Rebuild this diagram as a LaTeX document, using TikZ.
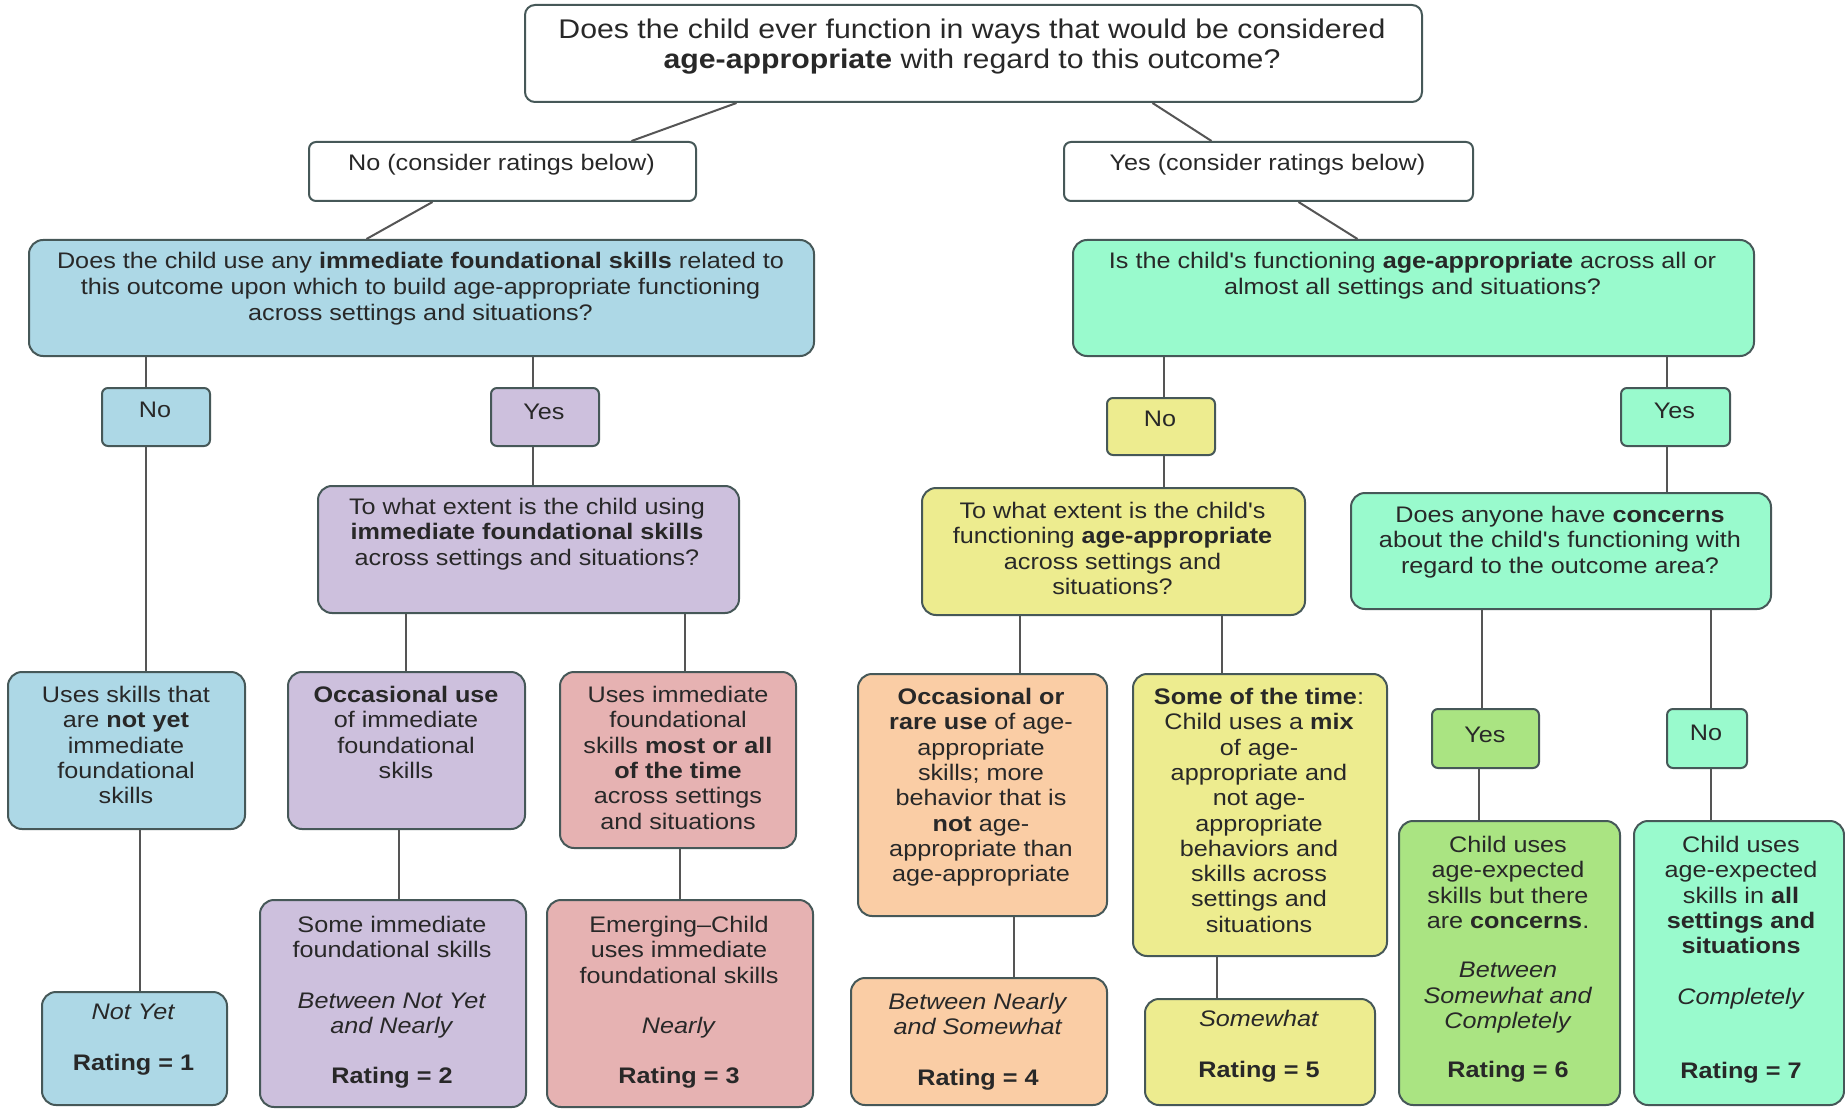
\documentclass[tikz,border=0pt]{standalone}
\usepackage{fontspec}
\setmainfont{Liberation Sans}
\newfontfamily\wf[FakeStretch=1.12]{Liberation Sans}
\definecolor{bordercol}{RGB}{70,88,88}
\definecolor{linecol}{RGB}{85,85,85}
\definecolor{textcol}{RGB}{40,40,40}
\definecolor{cblue}{RGB}{173,216,230}
\definecolor{cpurple}{RGB}{205,192,221}
\definecolor{cred}{RGB}{230,178,178}
\definecolor{corange}{RGB}{250,205,165}
\definecolor{cyellow}{RGB}{237,236,143}
\definecolor{caqua}{RGB}{153,250,205}
\definecolor{clgreen}{RGB}{170,228,130}
\begin{document}
\begin{tikzpicture}[x=1pt,y=-1pt,
  box/.style={draw=bordercol, line width=2pt, rounded corners=14pt, anchor=north west, inner sep=0pt},
  sbox/.style={box, rounded corners=6pt},
  wt/.style={align=center, inner sep=0pt, anchor=north, text=textcol, font=\wf\fontsize{22.5}{25.3}\selectfont},
  nt/.style={align=center, inner sep=0pt, anchor=north, text=textcol, font=\wf\fontsize{22.5}{26}\selectfont},
  tt/.style={align=center, inner sep=0pt, anchor=north, text=textcol, font=\wf\fontsize{27}{29.5}\selectfont},
  st/.style={inner sep=0pt, anchor=center, text=textcol, font=\wf\fontsize{22.5}{26}\selectfont},
  conn/.style={draw=linecol, line width=2pt}]
\useasboundingbox (0,0) rectangle (1845,1110);

% ---------- boxes ----------
\node[box, rounded corners=10pt, fill=white, minimum width=897pt, minimum height=97pt] (top) at (524,4) {};
\node[box, rounded corners=7pt, fill=white, minimum width=387pt, minimum height=59pt] (noC) at (308,141) {};
\node[box, rounded corners=7pt, fill=white, minimum width=409pt, minimum height=59pt] (yesC) at (1063,141) {};
\node[box, fill=cblue, minimum width=785pt, minimum height=116pt] (blueQ) at (28,239) {};
\node[box, fill=caqua, minimum width=681pt, minimum height=116pt] (greenQ) at (1072,239) {};
\node[sbox, fill=cblue, minimum width=108pt, minimum height=58pt] (noB) at (101,387) {};
\node[sbox, fill=cpurple, minimum width=108pt, minimum height=58pt] (yesP) at (490,387) {};
\node[sbox, fill=cyellow, minimum width=108pt, minimum height=57pt] (noY) at (1106,397) {};
\node[sbox, fill=caqua, minimum width=109pt, minimum height=58pt] (yesG) at (1620,387) {};
\node[box, fill=cpurple, minimum width=421pt, minimum height=127pt] (purQ) at (317,485) {};
\node[box, fill=cyellow, minimum width=383pt, minimum height=127pt] (yelQ) at (921,487) {};
\node[box, fill=caqua, minimum width=420pt, minimum height=116pt] (anyQ) at (1350,492) {};
\node[box, fill=cblue, minimum width=237pt, minimum height=157pt] (usesSk) at (7,671) {};
\node[box, fill=cpurple, minimum width=237pt, minimum height=157pt] (occUse) at (287,671) {};
\node[box, fill=cred, minimum width=236pt, minimum height=176pt] (usesImm) at (559,671) {};
\node[box, fill=corange, minimum width=249pt, minimum height=242pt] (occRare) at (857,673) {};
\node[box, fill=cyellow, minimum width=254pt, minimum height=282pt] (someTime) at (1132,673) {};
\node[sbox, fill=clgreen, minimum width=107pt, minimum height=59pt] (yesL) at (1431,708) {};
\node[sbox, fill=caqua, minimum width=80pt, minimum height=59pt] (noG) at (1666,708) {};
\node[box, fill=clgreen, minimum width=221pt, minimum height=284pt] (r6) at (1398,820) {};
\node[box, fill=caqua, minimum width=210pt, minimum height=284pt] (r7) at (1633,820) {};
\node[box, fill=cblue, minimum width=185pt, minimum height=113pt] (r1) at (41,991) {};
\node[box, fill=cpurple, minimum width=266pt, minimum height=207pt] (r2) at (259,899) {};
\node[box, fill=cred, minimum width=266pt, minimum height=207pt] (r3) at (546,899) {};
\node[box, fill=corange, minimum width=256pt, minimum height=127pt] (r4) at (850,977) {};
\node[box, fill=cyellow, minimum width=230pt, minimum height=106pt] (r5) at (1144,998) {};

% ---------- texts ----------
\node[tt] (topT) at (972,19) {Does the child ever function in ways that would be considered\\\textbf{age-appropriate} with regard to this outcome?};
\node[nt] (noCT) at (501.5,153.5) {No (consider ratings below)};
\node[nt] (yesCT) at (1267.5,153.5) {Yes (consider ratings below)};
\node[nt] (blueQT) at (420.5,251.5) {Does the child use any \textbf{immediate foundational skills} related to\\this outcome upon which to build age-appropriate functioning\\across settings and situations?};
\node[nt] (greenQT) at (1412.5,251.5) {Is the child's functioning \textbf{age-appropriate} across all or\\almost all settings and situations?};
\node[st] (noBT) at (155,410) {No};
\node[st] (yesPT) at (544,412) {Yes};
\node[st] (noYT) at (1160,419) {No};
\node[st] (yesGT) at (1674.5,411) {Yes};
\node[st] (yesLT) at (1485,735) {Yes};
\node[st] (noGT) at (1706,733) {No};
\node[wt] (purQT) at (527,498) {To what extent is the child using\\\textbf{immediate foundational skills}\\across settings and situations?};
\node[wt] (yelQT) at (1112.5,502) {To what extent is the child's\\functioning \textbf{age-appropriate}\\across settings and\\situations?};
\node[wt] (anyQT) at (1560,506) {Does anyone have \textbf{concerns}\\about the child's functioning with\\regard to the outcome area?};
\node[wt] (usesSkT) at (126,686) {Uses skills that\\are \textbf{not yet}\\immediate\\foundational\\skills};
\node[wt] (occUseT) at (406,686) {\textbf{Occasional use}\\of immediate\\foundational\\skills};
\node[wt] (usesImmT) at (678,686) {Uses immediate\\foundational\\skills \textbf{most or all}\\\textbf{of the time}\\across settings\\and situations};
\node[wt] (occRareT) at (981,688) {\textbf{Occasional or}\\\textbf{rare use} of age-\\appropriate\\skills; more\\behavior that is\\\textbf{not} age-\\appropriate than\\age-appropriate};
\node[wt] (someTimeT) at (1259,688) {\textbf{Some of the time}:\\Child uses a \textbf{mix}\\of age-\\appropriate and\\not age-\\appropriate\\behaviors and\\skills across\\settings and\\situations};
\node[wt] (r6T) at (1508,836) {Child uses\\age-expected\\skills but there\\are \textbf{concerns}.\\[24pt]\textit{Between}\\\textit{Somewhat and}\\\textit{Completely}\\[24pt]\textbf{Rating = 6}};
\node[wt] (r7T) at (1741,836) {Child uses\\age-expected\\skills in \textbf{all}\\\textbf{settings and}\\\textbf{situations}\\[25pt]\textit{Completely}\\[49pt]\textbf{Rating = 7}};
\node[wt] (r1T) at (133.5,1004) {\textit{Not Yet}\\[26pt]\textbf{Rating = 1}};
\node[wt] (r2T) at (392,916) {Some immediate\\foundational skills\\[25pt]\textit{Between Not Yet}\\\textit{and Nearly}\\[25pt]\textbf{Rating = 2}};
\node[wt] (r3T) at (679,916) {Emerging–Child\\uses immediate\\foundational skills\\[25pt]\textit{Nearly}\\[25pt]\textbf{Rating = 3}};
\node[wt] (r4T) at (978,993) {\textit{Between Nearly}\\\textit{and Somewhat}\\[25pt]\textbf{Rating = 4}};
\node[wt] (r5T) at (1259,1010) {\textit{Somewhat}\\[26pt]\textbf{Rating = 5}};

% ---------- connectors ----------
\draw[conn] ([xshift=-237pt]top.south) -- ([xshift=129pt]noC.north);
\draw[conn] ([xshift=179pt]top.south) -- ([xshift=-57pt]yesC.north);
\draw[conn] ([xshift=-70pt]noC.south) -- ([xshift=-55pt]blueQ.north);
\draw[conn] ([xshift=30pt]yesC.south) -- ([xshift=-56pt]greenQ.north);
\draw[conn] ([xshift=-10pt]noB.north) -- ([xshift=-10pt]noB.north |- blueQ.south);
\draw[conn] ([xshift=-12pt]yesP.north) -- ([xshift=-12pt]yesP.north |- blueQ.south);
\draw[conn] ([xshift=3pt]noY.north) -- ([xshift=3pt]noY.north |- greenQ.south);
\draw[conn] ([xshift=-9pt]yesG.north) -- ([xshift=-9pt]yesG.north |- greenQ.south);
\draw[conn] ([xshift=-10pt]noB.south) -- ([xshift=-10pt]noB.south |- usesSk.north);
\draw[conn] ([xshift=5pt]r1.north) -- ([xshift=5pt]r1.north |- usesSk.south);
\draw[conn] ([xshift=-12pt]yesP.south) -- ([xshift=-12pt]yesP.south |- purQ.north);
\draw[conn] ([xshift=-1pt]occUse.north) -- ([xshift=-1pt]occUse.north |- purQ.south);
\draw[conn] ([xshift=7pt]usesImm.north) -- ([xshift=7pt]usesImm.north |- purQ.south);
\draw[conn] ([xshift=6pt]r2.north) -- ([xshift=6pt]r2.north |- occUse.south);
\draw[conn] (r3.north) -- (r3.north |- usesImm.south);
\draw[conn] ([xshift=3pt]noY.south) -- ([xshift=3pt]noY.south |- yelQ.north);
\draw[conn] ([xshift=37pt]occRare.north) -- ([xshift=37pt]occRare.north |- yelQ.south);
\draw[conn] ([xshift=-38pt]someTime.north) -- ([xshift=-38pt]someTime.north |- yelQ.south);
\draw[conn] ([xshift=35pt]r4.north) -- ([xshift=35pt]r4.north |- occRare.south);
\draw[conn] ([xshift=-43pt]r5.north) -- ([xshift=-43pt]r5.north |- someTime.south);
\draw[conn] ([xshift=-9pt]yesG.south) -- ([xshift=-9pt]yesG.south |- anyQ.north);
\draw[conn] ([xshift=-4pt]yesL.north) -- ([xshift=-4pt]yesL.north |- anyQ.south);
\draw[conn] ([xshift=4pt]noG.north) -- ([xshift=4pt]noG.north |- anyQ.south);
\draw[conn] ([xshift=-31pt]r6.north) -- ([xshift=-31pt]r6.north |- yesL.south);
\draw[conn] ([xshift=-28pt]r7.north) -- ([xshift=-28pt]r7.north |- noG.south);
\end{tikzpicture}
\end{document}
